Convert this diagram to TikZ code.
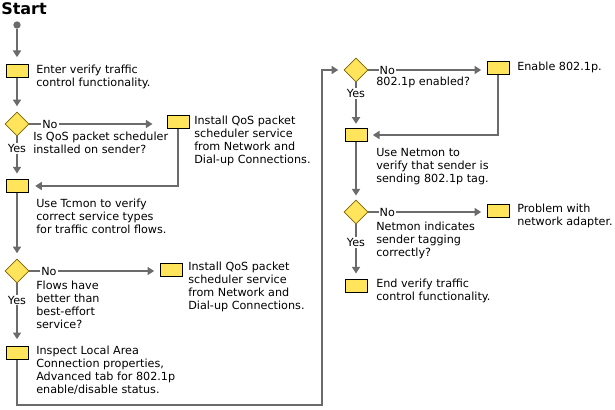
\documentclass[tikz,border=0pt]{standalone}
\usepackage{fontspec}
\setmainfont{DejaVu Sans}
\usetikzlibrary{shapes.geometric,arrows.meta}

\definecolor{flowgray}{HTML}{6B6B6B}
\definecolor{boxyellow}{HTML}{FFE45C}
\definecolor{diamondedge}{HTML}{7A6400}

\tikzset{
  stepbox/.style={draw=black,line width=0.75pt,fill=boxyellow,minimum width=16.5pt,minimum height=10pt,inner sep=0pt},
  decision/.style={diamond,draw=diamondedge,line width=0.6pt,fill=boxyellow,minimum width=18pt,minimum height=18pt,inner sep=0pt},
  startdot/.style={circle,fill=flowgray,minimum size=5.5pt,inner sep=0pt},
  txt/.style={anchor=north west,inner sep=0pt,align=left,font=\fontsize{8.4}{9.75}\selectfont},
  lbl/.style={fill=white,inner sep=0.8pt,font=\fontsize{8.4}{9.75}\selectfont},
  flow/.style={draw=flowgray,line width=1.5pt,-{Triangle[length=5pt,width=6pt]},shorten >=4pt},
  link/.style={draw=flowgray,line width=1.5pt}
}

\begin{document}
\begin{tikzpicture}[x=0.75pt,y=-0.75pt]
\useasboundingbox (0,0) rectangle (615,410);
% title and start
\node[anchor=north west,inner sep=0pt,font=\fontsize{12}{14}\selectfont\bfseries] (title) at (1,2) {Start};
\node[startdot] (start) at (17,25) {};
% left column
\node[stepbox] (b1) at (17,71) {};
\node[txt] (t1) at (36,65) {Enter verify traffic\\control functionality.};
\node[decision] (q1) at (17,124) {};
\node[txt] (qt1) at (33,132) {Is QoS packet scheduler\\installed on sender?};
\node[stepbox] (b2) at (178,122) {};
\node[txt] (t2) at (194,116) {Install QoS packet\\scheduler service\\from Network and\\Dial-up Connections.};
\node[stepbox] (b3) at (17,186) {};
\node[txt] (t3) at (36,199) {Use Tcmon to verify\\correct service types\\for traffic control flows.};
\node[decision] (q2) at (17,271) {};
\node[txt] (qt2) at (36,281) {Flows have\\better than\\best-effort\\service?};
\node[stepbox] (b4) at (171,270) {};
\node[txt] (t4) at (188,262) {Install QoS packet\\scheduler service\\from Network and\\Dial-up Connections.};
\node[stepbox] (b5) at (17,353) {};
\node[txt] (t5) at (36,346) {Inspect Local Area\\Connection properties,\\Advanced tab for 802.1p\\enable/disable status.};
% right column
\node[decision] (q3) at (356,70) {};
\node[txt] (qt3) at (376,77) {802.1p enabled?};
\node[stepbox] (b6) at (498,68) {};
\node[txt] (t6) at (517,62) {Enable 802.1p.};
\node[stepbox] (b7) at (356,135) {};
\node[txt] (t7) at (376,148) {Use Netmon to\\verify that sender is\\sending 802.1p tag.};
\node[decision] (q4) at (356,212) {};
\node[txt] (qt4) at (376,222) {Netmon indicates\\sender tagging\\correctly?};
\node[stepbox] (b8) at (498,211) {};
\node[txt] (t8) at (517,204) {Problem with\\network adapter.};
\node[stepbox] (b9) at (356,286) {};
\node[txt] (t9) at (376,279) {End verify traffic\\control functionality.};
\coordinate (turn) at (322,405);

% connectors
\draw[flow,shorten >=5pt] (start) -- (b1);
\draw[flow] (b1) -- (q1);
\draw[flow,shorten >=10.5pt] (q1.east) -- node[lbl,pos=.15] {No} (q1.east -| b2.west);
\draw[flow] (q1) -- node[lbl,pos=.29] {Yes} (b3);
\draw[flow,shorten >=5pt] (b2.south) |- (b3.east);
\draw[flow] (b3) -- (q2);
\draw[flow] (q2.east) -- node[lbl,pos=.15] {No} (q2.east -| b4.west);
\draw[flow,shorten >=5pt] (q2) -- node[lbl,pos=.27] {Yes} (b5);
\draw[flow] (b5.south) |- (turn) |- (q3.west);
\draw[flow] (q3.east) -- node[lbl,pos=.16] {No} (q3.east -| b6.west);
\draw[flow,shorten >=3pt] (q3) -- node[lbl,pos=.24] {Yes} (b7);
\draw[flow] (b6.south) |- (b7.east);
\draw[flow,shorten >=3pt] (b7) -- (q4);
\draw[flow] (q4.east) -- node[lbl,pos=.16] {No} (q4.east -| b8.west);
\draw[flow] (q4) -- node[lbl,pos=.33] {Yes} (b9);
\end{tikzpicture}
\end{document}
